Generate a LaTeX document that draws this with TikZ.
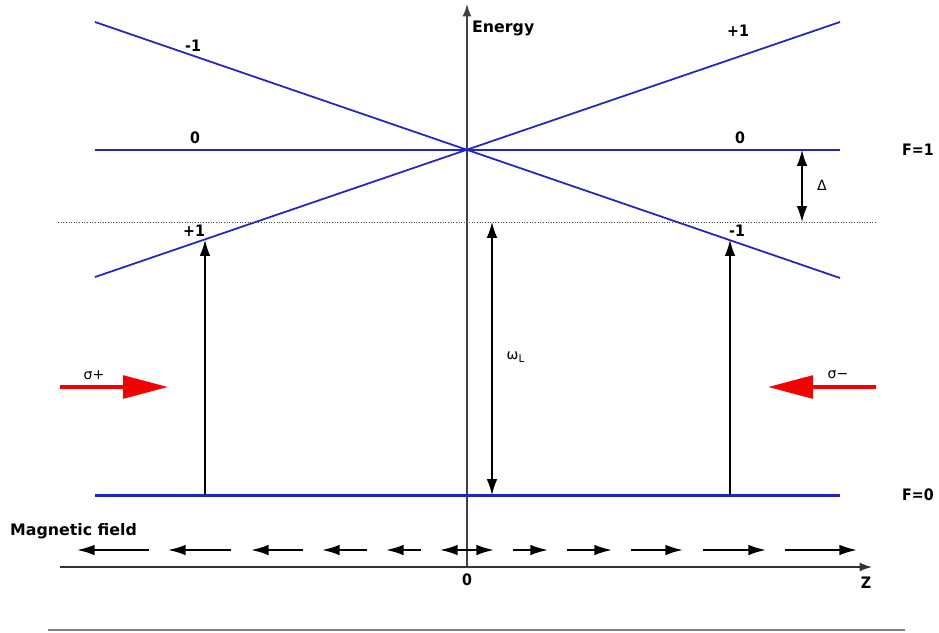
\documentclass[tikz,border=0pt]{standalone}
\usepackage{fontspec}
\setmainfont{DejaVu Sans}
\newfontfamily\condfont{DejaVu Sans Condensed}
\usetikzlibrary{arrows.meta}

\definecolor{levelblue}{RGB}{35,35,200}
\definecolor{laserred}{RGB}{245,0,0}

\begin{document}
\begin{tikzpicture}[x=0.02cm,y=-0.02cm,
	level/.style={draw=levelblue,line width=1.7pt},
	zeeman/.style={draw=levelblue,line width=1pt},
	trans/.style={line width=0.8pt,{Latex[length=9pt,width=6pt]}-{Latex[length=9pt,width=6pt]}},
	pump/.style={line width=0.8pt,-{Latex[length=9pt,width=6pt]}},
	laser/.style={draw=laserred,line width=2.3pt,-{Triangle[length=0.9cm,width=0.45cm]}},
	field/.style={line width=1.1pt,-{Latex[length=10pt,width=6pt]}},
	lbl/.style={font=\condfont\bfseries\small,inner sep=1pt},
	big/.style={font=\bfseries\small,inner sep=1pt}]
	\useasboundingbox (0,0) rectangle (939,632);
	% axes
	\coordinate (eb) at (467,567);
	\coordinate (et) at (467,4);
	\coordinate (zl) at (60,567);
	\coordinate (zr) at (872,567);
	\draw[line width=0.8pt,black!75,-{Latex[length=7pt,width=5pt]}] (eb) -- (et);
	\draw[line width=0.8pt,black!80,-{Latex[length=7pt,width=5pt]}] (zl) -- (zr);
	\node[big,anchor=west] (energy) at (470,28) {Energy};
	\node[lbl] (zero) at (467,580) {0};
	\node[lbl] (zlabel) at (866,583) {Z};
	% levels
	\coordinate (a1) at (95,150);
	\coordinate (b1) at (840,150);
	\coordinate (a0) at (95,495);
	\coordinate (b0) at (840,495);
	\coordinate (mlt) at (95,22);
	\coordinate (mlb) at (95,277);
	\coordinate (mrt) at (840,22);
	\coordinate (mrb) at (840,278);
	\draw[level] (a1) -- (b1);
	\draw[level] (a0) -- (b0);
	\draw[zeeman] (mlt) -- (mrb);
	\draw[zeeman] (mlb) -- (mrt);
	\coordinate (dl) at (58,222);
	\coordinate (dr) at (876,222);
	\draw[densely dotted,line width=0.5pt,black!70] (dl) -- (dr);
	\node[lbl] (f1) at (918,150) {F=1};
	\node[lbl] (f0) at (918,495) {F=0};
	\node[lbl] (m1) at (193,46) {-1};
	\node[lbl] (m2) at (738,31) {+1};
	\node[lbl] (m3) at (195,138) {0};
	\node[lbl] (m4) at (740,138) {0};
	\node[lbl] (m5) at (194,231) {+1};
	\node[lbl] (m6) at (737,231) {-1};
	% transitions
	\coordinate (dt) at (802,150);
	\coordinate (db) at (802,222);
	\draw[trans] (dt) -- (db);
	\node[font=\footnotesize] (delta) at (822,185) {Δ};
	\coordinate (wt) at (492,222);
	\coordinate (wb) at (492,495);
	\draw[trans] (wt) -- (wb);
	\node[font=\footnotesize] (omega) at (516,357) {ω\textsubscript{L}};
	\coordinate (pl0) at (205,495);
	\coordinate (pl1) at (205,240);
	\coordinate (pr0) at (730,495);
	\coordinate (pr1) at (730,240);
	\draw[pump] (pl0) -- (pl1);
	\draw[pump] (pr0) -- (pr1);
	% lasers
	\coordinate (sl0) at (60,387);
	\coordinate (sl1) at (168,387);
	\coordinate (sr0) at (876,387);
	\coordinate (sr1) at (768,387);
	\draw[laser] (sl0) -- (sl1);
	\draw[laser] (sr0) -- (sr1);
	\node[font=\footnotesize] (sigp) at (94,375) {σ+};
	\node[font=\footnotesize] (sigm) at (838,375) {σ−};
	% magnetic field
	\node[big,anchor=west] (mag) at (8,531) {Magnetic field};
	\foreach \a/\b in {467/494,513/548,567/612,631/683,703/766,785/857}{
		\coordinate (r\a) at (\a,550);
		\coordinate (s\a) at (\b,550);
		\draw[field] (r\a) -- (s\a);
		\coordinate (l\a) at ({934-\a},550);
		\coordinate (k\a) at ({934-\b},550);
		\draw[field] (l\a) -- (k\a);
	}
	\coordinate (bl) at (48,630);
	\coordinate (br) at (905,630);
	\draw[gray,line width=0.8pt] (bl) -- (br);
\end{tikzpicture}
\end{document}
